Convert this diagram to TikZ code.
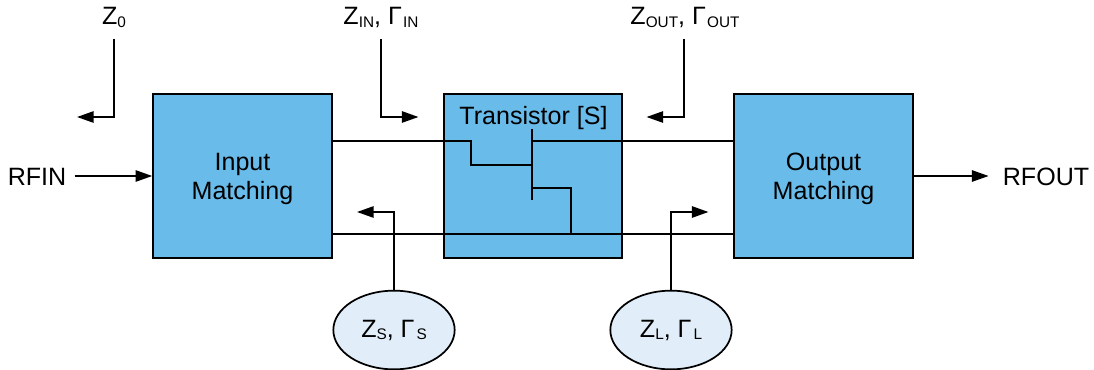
\documentclass[tikz,border=0pt]{standalone}
\usepackage{fontspec}
\setmainfont{Liberation Sans}
\usetikzlibrary{arrows.meta,positioning,shapes.geometric}
\definecolor{blockBlue}{HTML}{69BBEA}
\definecolor{sourceBlue}{HTML}{E1EEF9}
\newcommand{\subtext}[1]{\raisebox{-0.22ex}{\fontsize{11.5pt}{11.5pt}\selectfont #1}}

\begin{document}
\begin{tikzpicture}[x=0.75pt,y=-0.75pt,node distance=217.9pt,on grid]
  \tikzstyle{block} = [draw, line width=1.4pt, fill=blockBlue, rectangle, minimum width=134pt, minimum height=122.5pt, align=center, font={\fontsize{18.8pt}{21.7pt}\selectfont}, text height=38.5pt]
  \tikzstyle{termination} = [draw, line width=1.3pt, fill=sourceBlue, ellipse, minimum width=91pt, minimum height=59pt, inner sep=0pt, font={\fontsize{18.8pt}{21.7pt}\selectfont}]
  \tikzstyle{caption} = [inner sep=0pt, anchor=base, font={\fontsize{18.8pt}{21.7pt}\selectfont}]
  \tikzstyle{wire} = [black,line width=1.3pt];
  \tikzstyle{pointer} = [wire,-{Triangle[length=12.5pt,width=8.5pt]}];
  \useasboundingbox (0,0) rectangle (1094,370);

	\node[block](input) at (242.5,176) {Input\\Matching};
	\node[block](transistor) [right=of input]{};
	\node[block](output) [right=of transistor]{Output\\Matching};
	\node[caption] at (533.5,125) (transistorName) {Transistor [S]};
	\node[termination](zs) at (394,330) {Z\subtext{S}, Γ\kern1.5pt\subtext{S}};
	\node[termination](zl) at (671,330) {Z\subtext{L}, Γ\kern1.5pt\subtext{L}};

	\node[caption](rfin) at (37,186) {RFIN};
	\node[caption](rfout) at (1046,186) {RFOUT};
	\node[caption](zzero) at (114,25) {Z\subtext{0}};
	\node[caption](zin) at (381,25) {Z\subtext{IN}, Γ\kern1pt\subtext{IN}};
	\node[caption](zout) at (685,25) {Z\subtext{OUT}, Γ\kern1pt\subtext{OUT}};

	% ends of the pointers
	\coordinate (zzeroTop) at (114,39);
	\coordinate (zzeroEnd) at (77,117);
	\coordinate (zinTop) at (381,39);
	\coordinate (zinEnd) at (418.5,117);
	\coordinate (zoutTop) at (684,39);
	\coordinate (zoutEnd) at (646.5,117);
	\coordinate (zsEnd) at (357,212);
	\coordinate (zlEnd) at (708.5,212);

	% transistor symbol
	\coordinate (gateTop) at (532,129);
	\coordinate (gateBottom) at (532,200);

	\draw[pointer] ([xshift=6pt]rfin.east |- input.west) -- (input.west);
	\draw[pointer] (output.east) -- ([xshift=-10.5pt]rfout.west |- output.east);

	\draw[wire] ([yshift=26.25pt]input.east) -| (471,165) -- (gateTop |- 0,165);
	\draw[wire] (gateTop) -- (gateBottom);
	\draw[wire] (gateTop |- 0,141) -- ([yshift=26.25pt]output.west);
	\draw[wire] (gateTop |- 0,188) -| (571,234);
	\draw[wire] ([yshift=-43.5pt]input.east) -- ([yshift=-43.5pt]output.west);

	\draw[pointer] (zzeroTop) |- (zzeroEnd);
	\draw[pointer] (zinTop) |- (zinEnd);
	\draw[pointer] (zoutTop) |- (zoutEnd);
	\draw[pointer] (zs.north) |- (zsEnd);
	\draw[pointer] (zl.north) |- (zlEnd);
\end{tikzpicture}
\end{document}
